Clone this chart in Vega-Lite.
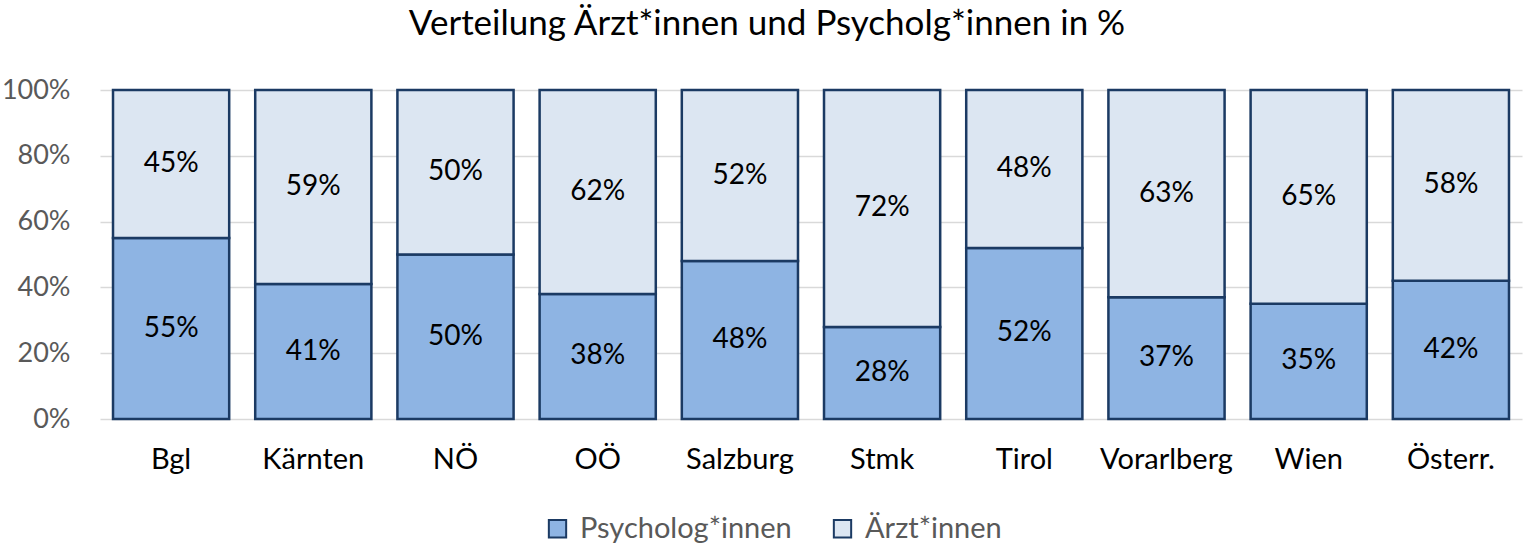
{
  "$schema": "https://vega.github.io/schema/vega-lite/v6.json",
  "width": 1422,
  "height": 329,
  "autosize": {"type": "none"},
  "padding": {"left": 100, "top": 90, "right": 2, "bottom": 127},
  "background": "white",
  "config": {"view": {"stroke": null}, "font": "Lato"},
  "title": {
    "text": "Verteilung Ärzt*innen und Psycholg*innen in %",
    "fontSize": 35,
    "fontWeight": "normal",
    "font": "Lato",
    "color": "#000000",
    "anchor": "middle",
    "dx": -44,
    "offset": 34
  },
  "data": {
    "values": [
      {"region": "Bgl", "series": "Psycholog*innen", "value": 55},
      {"region": "Bgl", "series": "Ärzt*innen", "value": 45},
      {"region": "Kärnten", "series": "Psycholog*innen", "value": 41},
      {"region": "Kärnten", "series": "Ärzt*innen", "value": 59},
      {"region": "NÖ", "series": "Psycholog*innen", "value": 50},
      {"region": "NÖ", "series": "Ärzt*innen", "value": 50},
      {"region": "OÖ", "series": "Psycholog*innen", "value": 38},
      {"region": "OÖ", "series": "Ärzt*innen", "value": 62},
      {"region": "Salzburg", "series": "Psycholog*innen", "value": 48},
      {"region": "Salzburg", "series": "Ärzt*innen", "value": 52},
      {"region": "Stmk", "series": "Psycholog*innen", "value": 28},
      {"region": "Stmk", "series": "Ärzt*innen", "value": 72},
      {"region": "Tirol", "series": "Psycholog*innen", "value": 52},
      {"region": "Tirol", "series": "Ärzt*innen", "value": 48},
      {"region": "Vorarlberg", "series": "Psycholog*innen", "value": 37},
      {"region": "Vorarlberg", "series": "Ärzt*innen", "value": 63},
      {"region": "Wien", "series": "Psycholog*innen", "value": 35},
      {"region": "Wien", "series": "Ärzt*innen", "value": 65},
      {"region": "Österr.", "series": "Psycholog*innen", "value": 42},
      {"region": "Österr.", "series": "Ärzt*innen", "value": 58}
    ]
  },
  "encoding": {
    "x": {
      "field": "region",
      "type": "nominal",
      "sort": null,
      "scale": {"paddingInner": 0.183, "paddingOuter": 0.0915},
      "axis": {
        "title": null,
        "labelAngle": 0,
        "labelFontSize": 29,
        "labelColor": "#000000",
        "labelPadding": 26,
        "ticks": false,
        "domain": false
      }
    }
  },
  "layer": [
    {
      "mark": {"type": "bar", "stroke": "#1B3A63", "strokeWidth": 2.5},
      "encoding": {
        "y": {
          "field": "value",
          "type": "quantitative",
          "stack": "zero",
          "scale": {"domain": [0, 100]},
          "axis": {
            "title": null,
            "values": [0, 20, 40, 60, 80, 100],
            "labelExpr": "datum.value + '%'",
            "labelFontSize": 27,
            "labelColor": "#595959",
            "labelPadding": 30,
            "ticks": false,
            "domain": false,
            "gridColor": "#D9D9D9",
            "gridWidth": 1.5
          }
        },
        "color": {
          "field": "series",
          "type": "nominal",
          "scale": {"domain": ["Psycholog*innen", "Ärzt*innen"], "range": ["#8EB4E3", "#DCE6F2"]},
          "legend": {
            "title": null,
            "orient": "none",
            "direction": "horizontal",
            "legendX": 443,
            "legendY": 424,
            "symbolType": "square",
            "symbolSize": 300,
            "symbolStrokeColor": "#1B3A63",
            "symbolStrokeWidth": 2,
            "labelFontSize": 29,
            "labelColor": "#595959",
            "labelLimit": 400,
            "columnPadding": 36,
            "labelOffset": 8
          }
        },
        "order": {"field": "series", "sort": "ascending"}
      }
    },
    {
      "mark": {"type": "text", "fontSize": 28, "color": "#000000", "baseline": "middle", "text": {"expr": "datum.value + '%'"}},
      "encoding": {
        "y": {"field": "value", "type": "quantitative", "stack": "zero", "bandPosition": 0.5},
        "detail": {"field": "series"},
        "order": {"field": "series", "sort": "ascending"}
      }
    }
  ]
}
